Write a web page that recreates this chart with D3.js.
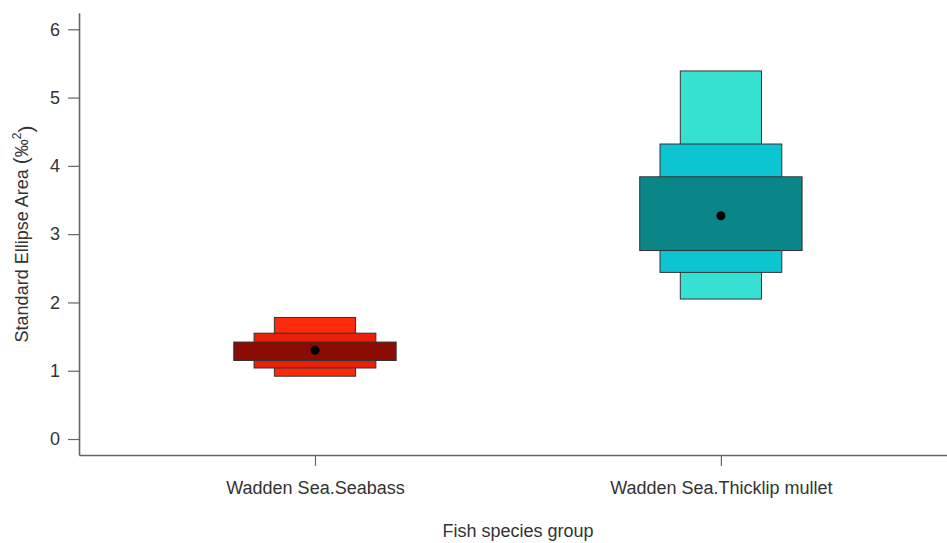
<!DOCTYPE html>
<html>
<head>
<meta charset="utf-8">
<script src="https://cdn.jsdelivr.net/npm/d3@7"></script>
<style>
  html, body { margin: 0; padding: 0; background: #ffffff; }
  svg { display: block; }
  text { font-family: "Liberation Sans", Arial, Helvetica, sans-serif; fill: #333; }
</style>
</head>
<body>
<svg id="chart" width="947" height="543"></svg>
<script>
// Standard ellipse area credible intervals per species group (posterior mode + HDR bands)
const groups = ["Wadden Sea.Seabass", "Wadden Sea.Thicklip mullet"];
const modes = [1.30, 3.27];
const ci95Low = [0.92, 2.05];
const ci95High = [1.78, 5.39];
const ci75Low = [1.04, 2.44];
const ci75High = [1.55, 4.32];
const ci50Low = [1.15, 2.76];
const ci50High = [1.42, 3.84];
const yTicks = [0, 1, 2, 3, 4, 5, 6];

// Fill colours: [95%, 75%, 50%] band for each group
const bandColors = [
  ["#ff2a0c", "#ea1f08", "#8a0c02"],
  ["#36e1d2", "#0dc4d3", "#0a8588"]
];
// Half-widths of the bands, in x-axis units
const bandHalfWidth = [0.1, 0.15, 0.2];

const svg = d3.select("#chart");

const x = d3.scaleLinear().domain([0.4187, 2.557]).range([79, 947]);
const y = d3.scaleLinear().domain([-0.234, 6.243]).range([455, 12.7]);

// Axes
const yAxis = d3.axisLeft(y).tickValues(yTicks).tickFormat(d3.format("d"))
  .tickSize(11).tickSizeOuter(0).tickPadding(8);
const gy = svg.append("g").attr("transform", "translate(79,0)").call(yAxis);
const xAxis = d3.axisBottom(x).tickValues([1, 2]).tickFormat((d, i) => groups[i])
  .tickSize(11).tickSizeOuter(0).tickPadding(15);
const gx = svg.append("g").attr("transform", "translate(0,455)").call(xAxis);

[gx, gy].forEach(g => {
  g.select(".domain").attr("stroke", "#666").attr("stroke-width", 1.6);
  g.selectAll(".tick line").attr("stroke", "#666").attr("stroke-width", 1.2);
  g.selectAll(".tick text").style("font-size", "18px").attr("fill", "#333")
    .style("font-family", "'Liberation Sans', Arial, sans-serif");
});

// HDR bands, widest interval drawn first
const bands = [
  { lo: ci95Low, hi: ci95High },
  { lo: ci75Low, hi: ci75High },
  { lo: ci50Low, hi: ci50High }
];
const plot = svg.append("g");
groups.forEach((g, gi) => {
  const cx = gi + 1;
  bands.forEach((b, bi) => {
    const x0 = x(cx - bandHalfWidth[bi]);
    const x1 = x(cx + bandHalfWidth[bi]);
    plot.append("rect")
      .attr("x", x0)
      .attr("y", y(b.hi[gi]))
      .attr("width", x1 - x0)
      .attr("height", y(b.lo[gi]) - y(b.hi[gi]))
      .attr("fill", bandColors[gi][bi])
      .attr("stroke", "#333")
      .attr("stroke-width", 1);
  });
  plot.append("circle")
    .attr("cx", x(cx))
    .attr("cy", y(modes[gi]))
    .attr("r", 4.5)
    .attr("fill", "#000");
});

// Axis titles
svg.append("text")
  .attr("x", 518)
  .attr("y", 537)
  .attr("text-anchor", "middle")
  .style("font-size", "18px")
  .text("Fish species group");

const yl = svg.append("text")
  .attr("transform", "translate(28,234) rotate(-90)")
  .attr("text-anchor", "middle")
  .style("font-size", "18px");
yl.append("tspan").text("Standard Ellipse Area ");
yl.append("tspan").style("font-size", "21px").text("(");
yl.append("tspan").text("‰");
yl.append("tspan").attr("dy", "-0.6em").style("font-size", "12px").text("2");
yl.append("tspan").attr("dy", "0.6em").style("font-size", "21px").text(")");
</script>
</body>
</html>
